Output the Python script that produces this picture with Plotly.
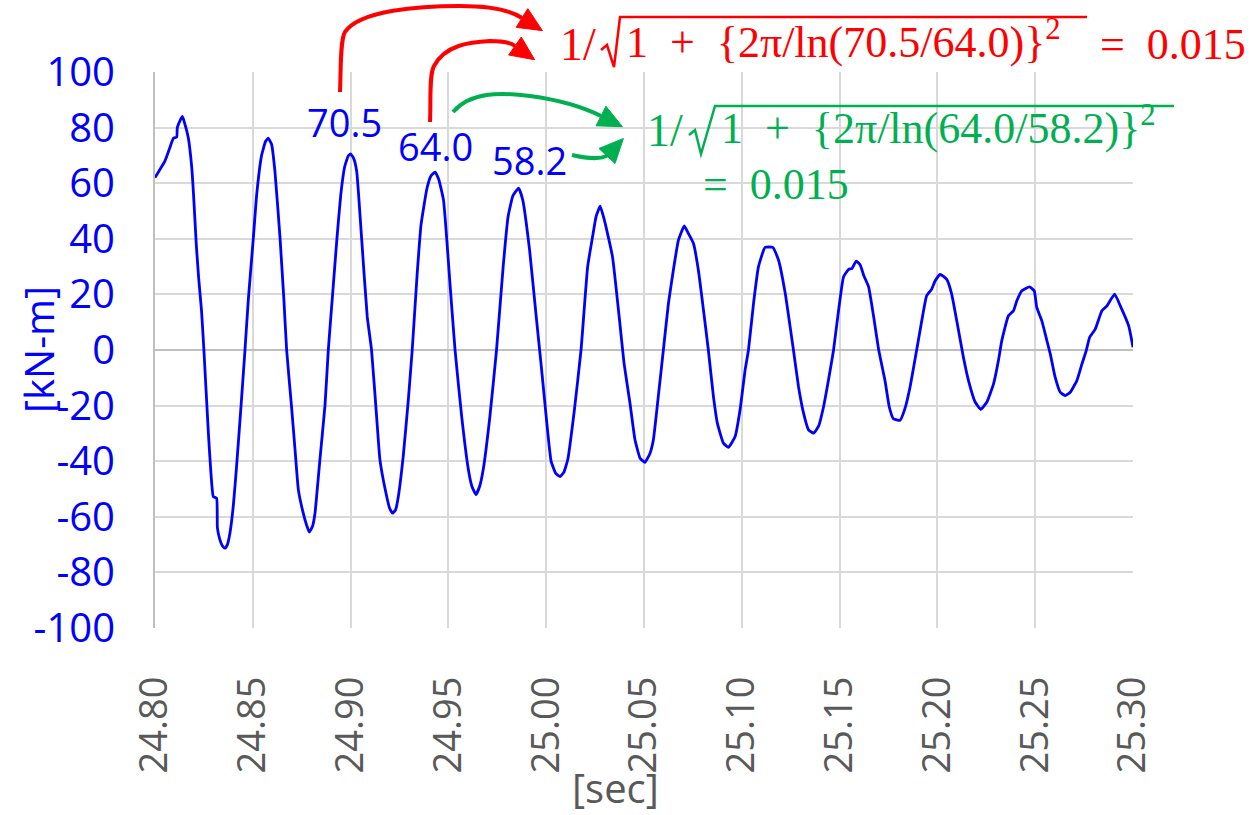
import math
import plotly.graph_objects as go

# ---------------- data ----------------
time_s = [
    24.8000, 24.8051, 24.8077, 24.8094, 24.8111, 24.8114, 24.8128, 24.8140, 24.8150, 24.8170, 24.8188, 24.8197,
    24.8211, 24.8223, 24.8238, 24.8250, 24.8273, 24.8286, 24.8298, 24.8315, 24.8319, 24.8332, 24.8345, 24.8358,
    24.8370, 24.8383, 24.8400, 24.8417, 24.8440, 24.8460, 24.8477, 24.8503, 24.8520, 24.8545, 24.8565, 24.8579,
    24.8596, 24.8613, 24.8639, 24.8659, 24.8673, 24.8698, 24.8716, 24.8733, 24.8758, 24.8775, 24.8789,
    24.8805, 24.8818, 24.8843, 24.8869, 24.8886, 24.8908, 24.8930, 24.8950, 24.8970, 24.8988, 24.9000, 24.9015,
    24.9031, 24.9056, 24.9085, 24.9107, 24.9133, 24.9150, 24.9181, 24.9200, 24.9215,
    24.9230, 24.9244, 24.9269, 24.9295, 24.9315, 24.9340, 24.9360, 24.9390, 24.9410, 24.9432, 24.9450, 24.9475,
    24.9508, 24.9534, 24.9568, 24.9602, 24.9620, 24.9641,
    24.9660, 24.9678, 24.9712, 24.9746, 24.9780, 24.9805, 24.9830, 24.9859, 24.9880, 24.9915, 24.9949, 24.9975,
    25.0000, 25.0025, 25.0050, 25.0071,
    25.0090, 25.0110, 25.0144, 25.0178, 25.0212, 25.0237, 25.0255, 25.0276, 25.0300, 25.0339, 25.0373, 25.0398,
    25.0428,
    25.0454, 25.0480, 25.0505, 25.0531, 25.0548, 25.0573, 25.0599, 25.0625, 25.0650, 25.0676, 25.0706, 25.0727,
    25.0753, 25.0778, 25.0804, 25.0829, 25.0855, 25.0875, 25.0906, 25.0932, 25.0966, 25.0991, 25.1017, 25.1034,
    25.1060, 25.1085, 25.1119, 25.1159, 25.1188, 25.1222, 25.1247, 25.1264, 25.1290, 25.1316, 25.1341, 25.1367,
    25.1392, 25.1418, 25.1452, 25.1469, 25.1495, 25.1520, 25.1546, 25.1563, 25.1585, 25.1606, 25.1623, 25.1648,
    25.1674, 25.1700,
    25.1732, 25.1754, 25.1775, 25.1809, 25.1834, 25.1860, 25.1894, 25.1920, 25.1945, 25.1971, 25.1988, 25.2014,
    25.2048, 25.2073, 25.2099, 25.2133, 25.2159, 25.2193, 25.2222, 25.2253, 25.2287, 25.2312, 25.2329,
    25.2363, 25.2389, 25.2406, 25.2432, 25.2471, 25.2495, 25.2508, 25.2534, 25.2560, 25.2577, 25.2602, 25.2628,
    25.2654, 25.2679, 25.2713, 25.2739, 25.2761, 25.2778, 25.2807, 25.2841, 25.2867, 25.2906, 25.2935, 25.2978,
    25.3000,
]

moment_kNm = [
    62.0, 68.0, 73.0, 76.2, 76.6, 80.0, 82.5, 84.0, 82.0, 76.4, 65.6, 56.0,
    38.0, 26.0, 14.0, 0.0, -30.0, -44.3, -52.7, -53.3, -64.0, -68.3, -70.5, -71.3,
    -70.0, -65.9, -56.3, -41.9, -20.0, 0.0, 18.0, 40.5, 56.0, 70.0, 75.0, 76.2,
    74.0, 64.4, 40.5, 18.0, 0.0, -20.4, -35.9, -50.3, -58.7, -63.0, -65.5,
    -63.5, -58.7, -39.5, -20.0, 0.0, 20.0, 40.0, 56.0, 66.0, 69.8, 70.5, 69.0,
    64.4, 40.5, 12.0, 0.0, -24.0, -39.5, -51.5, -57.0, -58.7,
    -57.5, -52.7, -38.3, -18.0, 0.0, 27.0, 45.0, 58.0, 62.5, 64.0, 61.5, 53.9,
    24.0, 0.0, -24.0, -43.0, -49.0, -52.0,
    -49.0, -43.0, -24.0, 0.0, 30.0, 47.9, 55.5, 58.2, 54.0, 36.0, 12.0, -6.0,
    -24.0, -40.0, -44.5, -45.5,
    -44.0, -39.5, -21.6, 0.0, 30.0, 40.7, 48.0, 51.7, 46.0, 33.5, 12.0, -4.8,
    -19.0,
    -32.3, -38.9, -40.4, -37.1, -32.3, -16.8, 0.0, 16.8, 28.7, 39.5, 44.6, 41.9,
    38.3, 28.7, 14.4, 0.0, -16.8, -26.3, -33.5, -35.0, -31.1, -21.6, -7.2, 0.0,
    16.8, 29.9, 36.9, 36.9, 32.3, 20.4, 8.4, 0.0, -13.2, -22.8, -28.7, -29.9,
    -27.5, -20.4, -7.2, 0.0, 14.4, 26.3, 29.0, 29.3, 32.0, 30.5, 26.9, 22.8,
    12.0, 0.0,
    -11.0, -20.5, -24.7, -25.3, -21.1, -13.4, 0.0, 10.5, 19.5, 21.9, 24.8, 27.2,
    25.4, 20.1, 10.5, -2.6, -11.0, -18.7, -21.4, -18.7, -12.2, -3.8, 3.3,
    12.3, 14.1, 17.7, 21.3, 22.7, 21.3, 15.3, 10.5, 3.3, -1.4, -9.8, -15.2,
    -16.4, -15.2, -11.0, -5.0, -0.2, 4.5, 7.5, 14.1, 15.9, 20.1, 15.9, 8.7,
    1.0,
]

peak_labels = ["70.5", "64.0", "58.2"]
x_tick_vals = [24.80, 24.85, 24.90, 24.95, 25.00, 25.05, 25.10, 25.15, 25.20, 25.25, 25.30]
y_tick_vals = [-100, -80, -60, -40, -20, 0, 20, 40, 60, 80, 100]
x_title = "[sec]"
y_title = "[kN-m]"
NB = "\u00a0"
red_formula = ["1/", f"1{NB}{NB}+{NB}{NB}{{2\u03c0/ln(70.5/64.0)}}<sup>2</sup>", f"={NB}{NB}0.015"]
green_formula = ["1/", f"1{NB}{NB}+{NB}{NB}{{2\u03c0/ln(64.0/58.2)}}<sup>2</sup>", f"={NB}{NB}0.015"]

# ---------------- layout geometry ----------------
W, H = 1252, 815
L, R, T, B = 155, 1133, 72, 628

BLUE = "#0000FF"
RED = "#FF0000"
GREEN = "#00B050"
GRAY = "#595959"
GRID = "#d9d9d9"


def px(x):
    return (x - L) / (R - L)


def py(y):
    return (B - y) / (B - T)


fig = go.Figure()
fig.add_trace(go.Scatter(x=time_s, y=moment_kNm, mode="lines",
                         line=dict(color=BLUE, width=2.8, shape="spline", smoothing=0.4),
                         hoverinfo="skip"))

fig.update_layout(
    width=W, height=H,
    margin=dict(l=L, r=W - R, t=T, b=H - B, pad=0),
    paper_bgcolor="white", plot_bgcolor="white",
    showlegend=False,
    font=dict(family="Open Sans"),
)

fig.update_xaxes(
    range=[24.8, 25.3], tickvals=x_tick_vals, ticktext=[f"{v:.2f}" for v in x_tick_vals],
    tickangle=-90, tickfont=dict(family="Open Sans", size=38, color=GRAY),
    showgrid=True, gridcolor=GRID, gridwidth=2, zeroline=False,
    showline=False, ticks="", ticklabelstandoff=40,
)
fig.update_yaxes(
    range=[-100, 100], tickvals=y_tick_vals, ticktext=[str(v) for v in y_tick_vals],
    tickfont=dict(family="Open Sans", size=40, color=BLUE),
    showgrid=True, gridcolor=GRID, gridwidth=2,
    zeroline=True, zerolinecolor="#bfbfbf", zerolinewidth=2,
    showline=True, linecolor="#bfbfbf", linewidth=2, ticks="", ticklabelstandoff=30,
)

ann = []


def add_text(text, x, y, size, color, family="Open Sans", xanchor="center", yanchor="middle", angle=0):
    ann.append(dict(text=text, x=px(x), y=py(y), xref="paper", yref="paper", showarrow=False,
                    xanchor=xanchor, yanchor=yanchor, textangle=angle,
                    font=dict(family=family, size=size, color=color)))


# axis titles
add_text(y_title, 38, 350, 40, BLUE, angle=-90)
add_text(x_title, 615, 787, 40, GRAY)

# peak labels
add_text(peak_labels[0], 344, 122, 38, BLUE)
add_text(peak_labels[1], 435, 146, 38, BLUE)
add_text(peak_labels[2], 529, 160, 38, BLUE)

SERIF = "Liberation Serif"
FS = 44
# red formula
add_text(red_formula[0], 558, 44, FS + 2, RED, SERIF, xanchor="left")
add_text(red_formula[1], 624, 40, FS, RED, SERIF, xanchor="left")
add_text(red_formula[2], 1098, 44, FS, RED, SERIF, xanchor="left")
# green formula
add_text(green_formula[0], 645, 130, FS + 2, GREEN, SERIF, xanchor="left")
add_text(green_formula[1], 719, 126, FS, GREEN, SERIF, xanchor="left")
add_text(green_formula[2], 701, 184, FS, GREEN, SERIF, xanchor="left")

fig.update_layout(annotations=ann)

shapes = []


def P(x, y):
    return f"{px(x):.5f},{py(y):.5f}"


def curve_arrow(start, segs, end_dir, color, head_len=24, head_w=11, width=4):
    # segs: list of cubic segments ((c1x,c1y),(c2x,c2y),(ex,ey)) in pixels
    d = f"M {P(*start)}"
    for c1, c2, e in segs:
        d += f" C {P(*c1)} {P(*c2)} {P(*e)}"
    shapes.append(dict(type="path", path=d, xref="paper", yref="paper",
                       line=dict(color=color, width=width), fillcolor="rgba(0,0,0,0)"))
    ex, ey = segs[-1][2]
    dx, dy = end_dir
    n = math.hypot(dx, dy)
    dx, dy = dx / n, dy / n
    tip = (ex + dx * head_len, ey + dy * head_len)
    b1 = (ex - dy * head_w, ey + dx * head_w)
    b2 = (ex + dy * head_w, ey - dx * head_w)
    tri = f"M {P(*tip)} L {P(*b1)} L {P(*b2)} Z"
    shapes.append(dict(type="path", path=tri, xref="paper", yref="paper",
                       line=dict(color=color, width=1), fillcolor=color))


curve_arrow((340, 92), [((341, 70), (340, 40), (345, 32)),
                        ((360, 10), (420, 6), (460, 6)),
                        ((490, 6), (510, 10), (522, 18))], (21, 13), RED)
curve_arrow((430, 122), [((431, 100), (429, 75), (434, 66)),
                         ((445, 45), (470, 42), (490, 41)),
                         ((502, 41), (510, 42), (515, 46))], (20, 14), RED)
curve_arrow((453, 112), [((470, 92), (500, 92), (530, 96)),
                         ((560, 100), (585, 108), (601, 116))], (22, 11), GREEN)
curve_arrow((572, 155), [((585, 158), (597, 160), (607, 156))], (15, -16), GREEN)


def radical(points, color):
    d = "M " + " L ".join(P(x, y) for x, y in points)
    shapes.append(dict(type="path", path=d, xref="paper", yref="paper",
                       line=dict(color=color, width=2.5), fillcolor="rgba(0,0,0,0)"))


radical([(601, 50), (607, 45), (614, 67), (620, 17), (1087, 17)], RED)
radical([(689, 135), (695, 130), (701, 154), (715, 106), (1174, 106)], GREEN)

fig.update_layout(shapes=shapes)

fig.write_html("out.html")
